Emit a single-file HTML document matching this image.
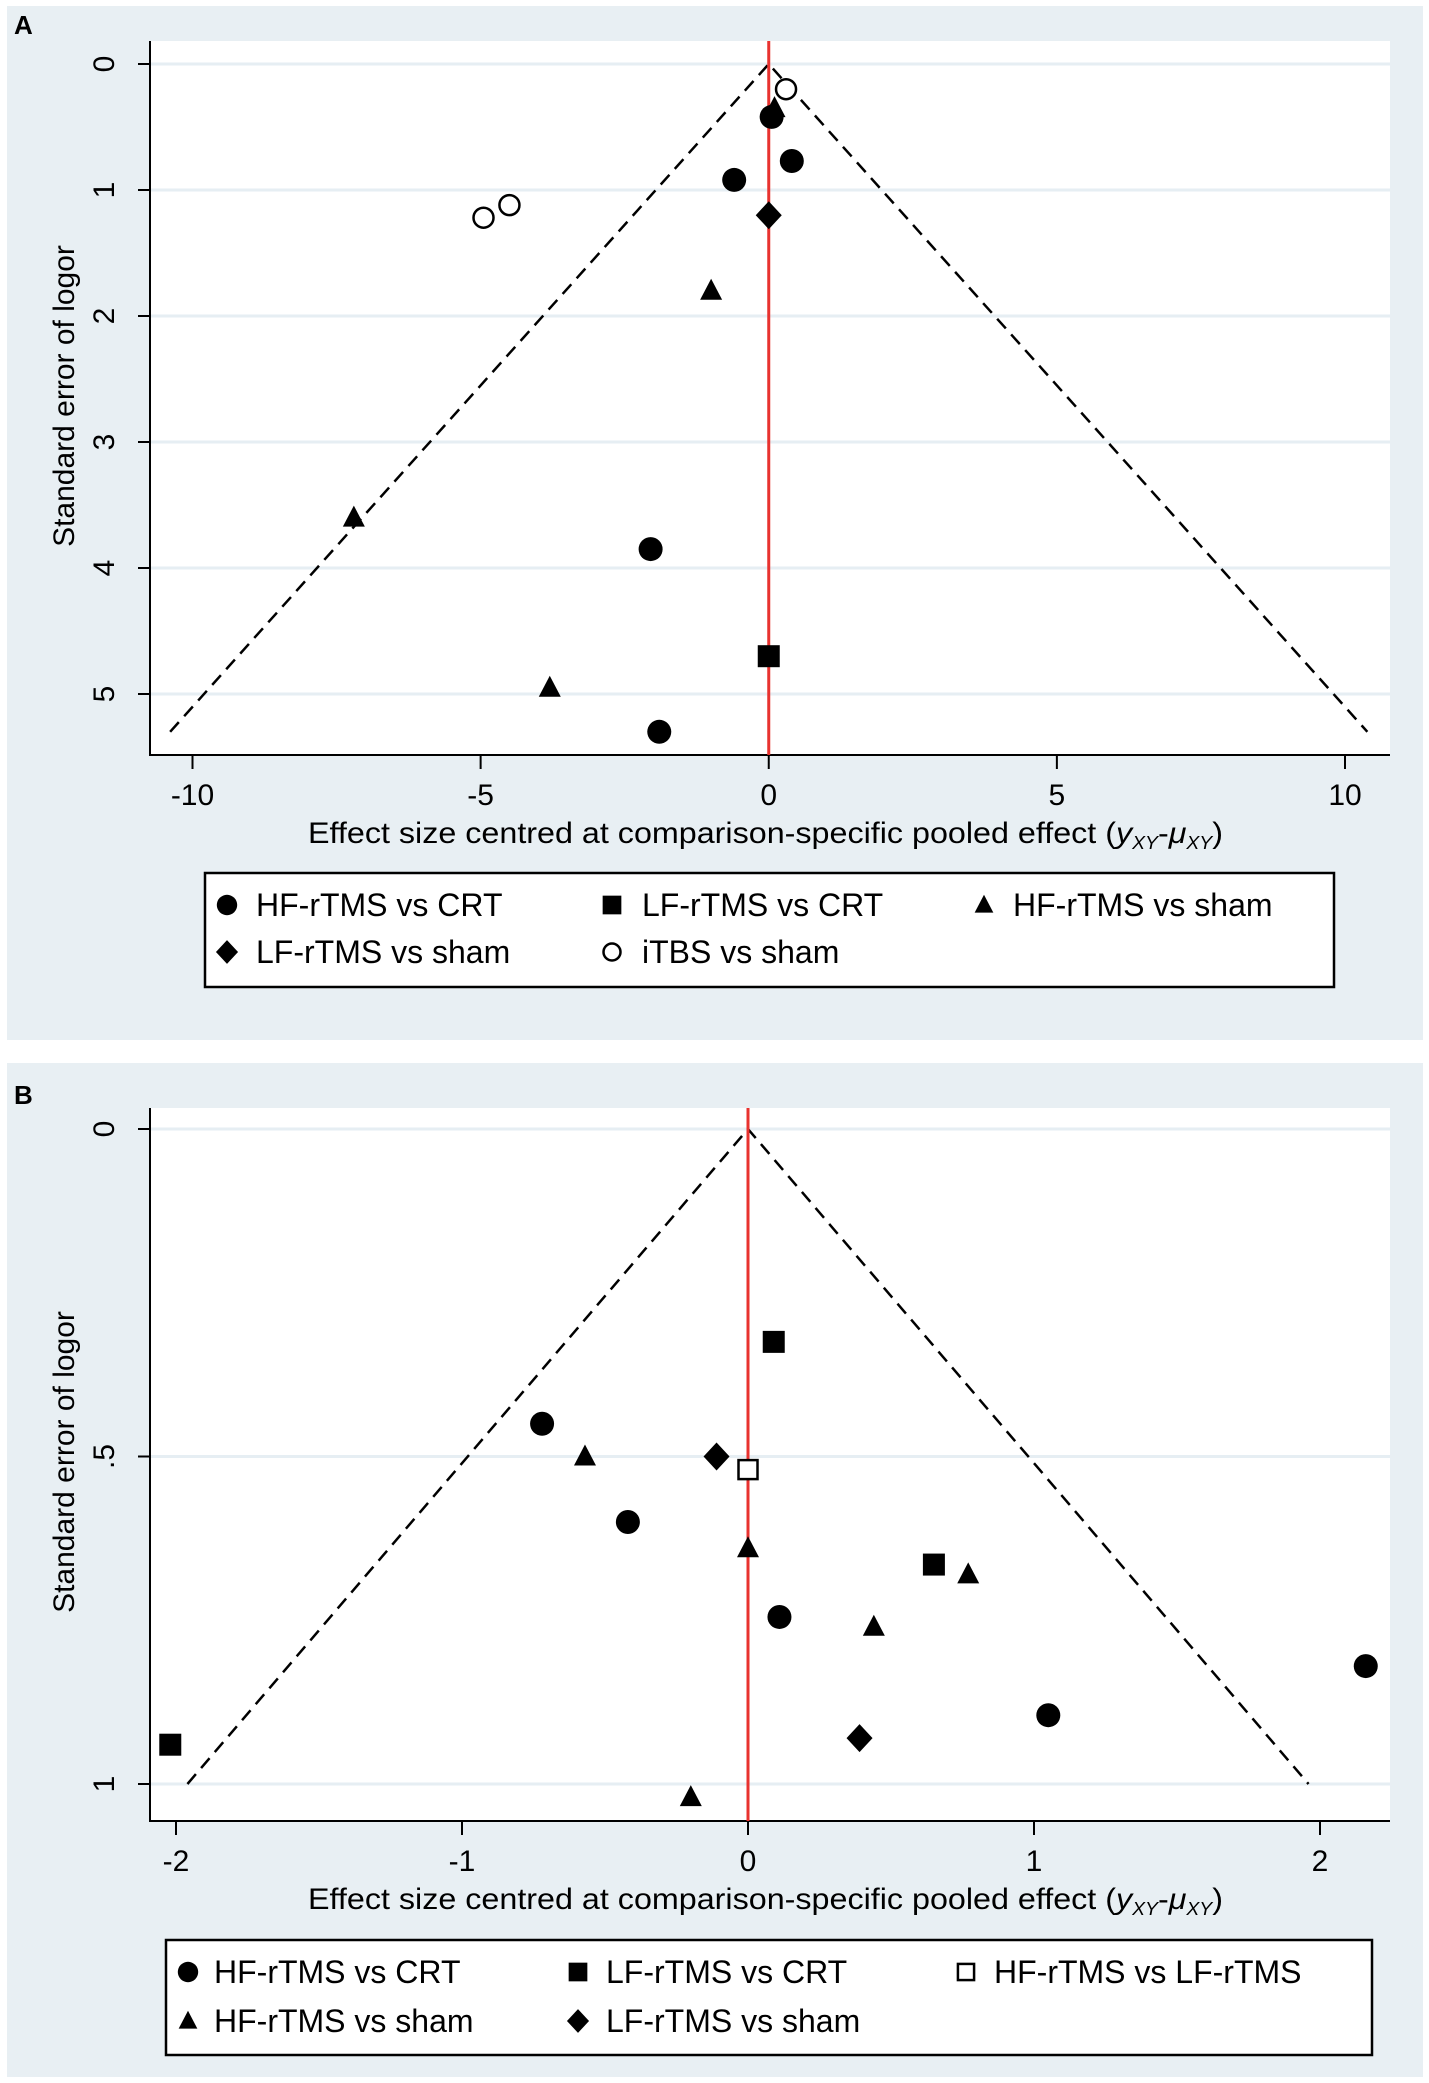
<!DOCTYPE html>
<html><head><meta charset="utf-8">
<style>
body{margin:0;background:#fff;}
svg{display:block;font-family:"Liberation Sans",sans-serif;}
</style></head>
<body>
<svg id="fig" width="1429" height="2083" viewBox="0 0 1429 2083">
<rect x="7" y="6" width="1416" height="1034" fill="#e8eff3"/>
<rect x="7" y="1063" width="1416" height="1014" fill="#e8eff3"/>
<text x="14" y="34" font-size="26" font-weight="bold">A</text>
<text x="14" y="1104" font-size="26" font-weight="bold">B</text>
<g id="gA"></g>
<g id="gB"></g>
</svg>
<script>
// Panel A data
const aTicksX = [-10, -5, 0, 5, 10];
const aTicksY = [0, 1, 2, 3, 4, 5];
const aHFcrtX = [0.05, 0.4, -0.6, -2.05, -1.9];
const aHFcrtY = [0.42, 0.77, 0.92, 3.85, 5.3];
const aLFcrtX = [0];
const aLFcrtY = [4.7];
const aHFshamX = [0.1, -1.0, -7.2, -3.8];
const aHFshamY = [0.35, 1.8, 3.6, 4.95];
const aLFshamX = [0];
const aLFshamY = [1.2];
const aITBSX = [0.3, -4.5, -4.95];
const aITBSY = [0.2, 1.12, 1.22];
const aFunnelMax = 5.3;
// Panel B data
const bTicksX = [-2, -1, 0, 1, 2];
const bTicksY = [0, 0.5, 1];
const bTickLabelsY = ["0", ".5", "1"];
const bHFcrtX = [-0.72, -0.42, 0.11, 1.05, 2.16];
const bHFcrtY = [0.45, 0.6, 0.745, 0.895, 0.82];
const bLFcrtX = [0.09, 0.65, -2.02];
const bLFcrtY = [0.325, 0.665, 0.94];
const bHFLFX = [0];
const bHFLFY = [0.52];
const bHFshamX = [-0.57, 0, 0.77, 0.44, -0.2];
const bHFshamY = [0.5, 0.64, 0.68, 0.76, 1.02];
const bLFshamX = [-0.11, 0.39];
const bLFshamY = [0.5, 0.93];
const bFunnelMax = 1.0;

const NS = "http://www.w3.org/2000/svg";
function mk(parent, tag, attrs, text){
  const e = document.createElementNS(NS, tag);
  for (const k in attrs) e.setAttribute(k, attrs[k]);
  if (text !== undefined) e.textContent = text;
  parent.appendChild(e);
  return e;
}
function marker(g, shape, cx, cy, s){
  let e;
  if (shape === "circle") e = mk(g, "circle", {cx:cx, cy:cy, r:12*s, fill:"#000"});
  else if (shape === "ocircle") e = mk(g, "circle", {cx:cx, cy:cy, r:10*s, fill:"#fff", stroke:"#000", "stroke-width":2.5});
  else if (shape === "square") e = mk(g, "rect", {x:cx-11*s, y:cy-11*s, width:22*s, height:22*s, fill:"#000"});
  else if (shape === "osquare") e = mk(g, "rect", {x:cx-9.5*s, y:cy-9.5*s, width:19*s, height:19*s, fill:"#fff", stroke:"#000", "stroke-width":2.5});
  else if (shape === "triangle") e = mk(g, "polygon", {points:`${cx},${cy-12*s} ${cx-11*s},${cy+9*s} ${cx+11*s},${cy+9*s}`, fill:"#000"});
  else if (shape === "diamond") e = mk(g, "polygon", {points:`${cx},${cy-14*s} ${cx+13*s},${cy} ${cx},${cy+14*s} ${cx-13*s},${cy}`, fill:"#000"});
  return e;
}

function drawPanel(g, cfg){
  const sx = v => cfg.x0 + (v - cfg.xv0) * (cfg.x1 - cfg.x0) / (cfg.xv1 - cfg.xv0);
  const sy = v => cfg.y0 + (v - cfg.yv0) * (cfg.y1 - cfg.y0) / (cfg.yv1 - cfg.yv0);
  const p = cfg.plot;
  const bg = mk(g, "rect", {x:p.l, y:p.t, width:p.r-p.l, height:p.b-p.t, fill:"#fff"});
  
  
  cfg.ticksY.forEach((v, i) => {
    const gl = mk(g, "line", {x1:p.l, x2:p.r, y1:sy(v), y2:sy(v), stroke:"#e6eef3", "stroke-width":3});
    
    
    const tk = mk(g, "line", {x1:p.l-12, x2:p.l, y1:sy(v), y2:sy(v), stroke:"#000", "stroke-width":2});
    
    
    const lx = 114, ly = sy(v);
    const t = mk(g, "text", {x:lx, y:ly, "font-size":30, "text-anchor":"middle", transform:`rotate(-90 ${lx} ${ly})`}, cfg.tickLabelsY[i]);
    
    
  });
  cfg.ticksX.forEach(v => {
    const tk = mk(g, "line", {x1:sx(v), x2:sx(v), y1:p.b, y2:p.b+14, stroke:"#000", "stroke-width":2});
    
    
    const t = mk(g, "text", {x:sx(v), y:p.b+50, "font-size":30, "text-anchor":"middle"}, String(v));
    
    
  });
  const ax = mk(g, "path", {d:`M${p.l},${p.t} V${p.b} H${p.r}`, fill:"none", stroke:"#000", "stroke-width":2});
  
  
  const fm = cfg.funnelMax;
  const fl = mk(g, "path", {d:`M${sx(-1.96*fm)},${sy(fm)} L${sx(0)},${sy(0)} L${sx(1.96*fm)},${sy(fm)}`, fill:"none", stroke:"#000", "stroke-width":2.5, "stroke-dasharray":"13,8"});
  
  
  const rl = mk(g, "line", {x1:sx(0), x2:sx(0), y1:p.t, y2:p.b, stroke:"#e8322f", "stroke-width":3});
  
  
  cfg.series.forEach(s => {
    s.xs.forEach((xv, i) => {
      const m = marker(g, s.shape, sx(xv), sy(s.ys[i]), 1);
      
      
    });
  });
  const yt = mk(g, "text", {x:cfg.ytx, y:cfg.yty, "font-size":30, "text-anchor":"middle", transform:`rotate(-90 ${cfg.ytx} ${cfg.yty})`}, "Standard error of logor");
  
  
  const xt = mk(g, "text", {x:308, y:p.b+88, "font-size":30, textLength:915, lengthAdjust:"spacingAndGlyphs"});
  
  
  xt.innerHTML = 'Effect size centred at comparison-specific pooled effect (<tspan font-style="italic">y</tspan><tspan font-style="italic" font-size="18" dy="6">XY</tspan><tspan dy="-6">-</tspan><tspan font-style="italic">μ</tspan><tspan font-style="italic" font-size="18" dy="6">XY</tspan><tspan dy="-6">)</tspan>';
  const L = cfg.legend;
  const lg = mk(g, "g", {});
  
  
  mk(lg, "rect", {x:L.x, y:L.y, width:L.w, height:L.h, fill:"#fff", stroke:"#000", "stroke-width":2.5});
  L.items.forEach(it => {
    const eg = mk(lg, "g", {});
    
    
    marker(eg, it.shape, it.mx, it.my, 0.85);
    mk(eg, "text", {x:it.tx, y:it.my + 11, "font-size":32}, it.label);
  });
}

const rowA1 = 905, rowA2 = 952;
drawPanel(document.getElementById("gA"), {
  plot:{l:150, r:1390, t:41, b:755},
  x0:192.5, x1:1345, xv0:-10, xv1:10,
  y0:64, y1:694, yv0:0, yv1:5,
  ticksX:aTicksX, ticksY:aTicksY, tickLabelsY:aTicksY.map(String),
  funnelMax:aFunnelMax,
  ytx:74, yty:396,
  series:[
    {name:"hf-rtms-vs-crt", shape:"circle", xs:aHFcrtX, ys:aHFcrtY},
    {name:"lf-rtms-vs-crt", shape:"square", xs:aLFcrtX, ys:aLFcrtY},
    {name:"hf-rtms-vs-sham", shape:"triangle", xs:aHFshamX, ys:aHFshamY},
    {name:"lf-rtms-vs-sham", shape:"diamond", xs:aLFshamX, ys:aLFshamY},
    {name:"itbs-vs-sham", shape:"ocircle", xs:aITBSX, ys:aITBSY}
  ],
  legend:{x:205, y:873, w:1129, h:114, items:[
    {shape:"circle", mx:227, my:rowA1, tx:256, label:"HF-rTMS vs CRT"},
    {shape:"square", mx:612, my:rowA1, tx:642, label:"LF-rTMS vs CRT"},
    {shape:"triangle", mx:984, my:rowA1, tx:1013, label:"HF-rTMS vs sham"},
    {shape:"diamond", mx:227, my:rowA2, tx:256, label:"LF-rTMS vs sham"},
    {shape:"ocircle", mx:612, my:rowA2, tx:642, label:"iTBS vs sham"}
  ]}
});

const rowB1 = 1972, rowB2 = 2021;
drawPanel(document.getElementById("gB"), {
  plot:{l:150, r:1390, t:1108, b:1821},
  x0:176, x1:1320, xv0:-2, xv1:2,
  y0:1129, y1:1784, yv0:0, yv1:1,
  ticksX:bTicksX, ticksY:bTicksY, tickLabelsY:bTickLabelsY,
  funnelMax:bFunnelMax,
  ytx:74, yty:1462,
  series:[
    {name:"hf-rtms-vs-crt", shape:"circle", xs:bHFcrtX, ys:bHFcrtY},
    {name:"lf-rtms-vs-crt", shape:"square", xs:bLFcrtX, ys:bLFcrtY},
    {name:"hf-rtms-vs-lf-rtms", shape:"osquare", xs:bHFLFX, ys:bHFLFY},
    {name:"hf-rtms-vs-sham", shape:"triangle", xs:bHFshamX, ys:bHFshamY},
    {name:"lf-rtms-vs-sham", shape:"diamond", xs:bLFshamX, ys:bLFshamY}
  ],
  legend:{x:166, y:1940, w:1206, h:115, items:[
    {shape:"circle", mx:188, my:rowB1, tx:214, label:"HF-rTMS vs CRT"},
    {shape:"square", mx:578, my:rowB1, tx:606, label:"LF-rTMS vs CRT"},
    {shape:"osquare", mx:966, my:rowB1, tx:994, label:"HF-rTMS vs LF-rTMS"},
    {shape:"triangle", mx:188, my:rowB2, tx:214, label:"HF-rTMS vs sham"},
    {shape:"diamond", mx:578, my:rowB2, tx:606, label:"LF-rTMS vs sham"}
  ]}
});
</script>
</body></html>
